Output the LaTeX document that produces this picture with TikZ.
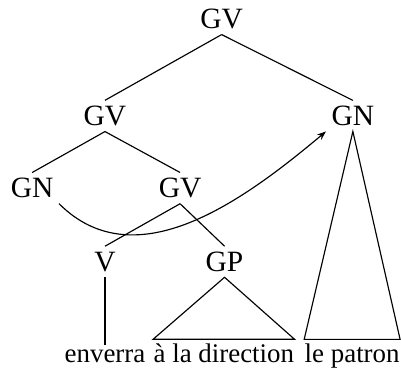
\documentclass[tikz,border=0pt]{standalone}
\usepackage{fontspec}
\setmainfont{Liberation Serif}
\usepackage{tikz}
\usetikzlibrary{arrows.meta, positioning}

\begin{document}
\begin{tikzpicture}[
    cat/.style={font=\fontsize{11.5}{13}\selectfont, inner sep=2pt},
    word/.style={font=\fontsize{10.5}{12}\selectfont, inner xsep=0pt, inner ysep=1.5pt, anchor=base},
    branch/.style={line width=0.45pt},
    arrow/.style={-{Stealth[length=3.5pt]}, line width=0.45pt}
]
    \useasboundingbox (0,0) rectangle (5.5,5.07);

    % Categories
    \node[cat] (gvtop) at (3.04,4.81) {GV};
    \node[cat] (gvleft) at (1.44,3.48) {GV};
    \node[cat] (gnright) at (4.84,3.48) {GN};
    \node[cat] (gnleft) at (0.44,2.49) {GN};
    \node[cat] (gvmid) at (2.47,2.49) {GV};
    \node[cat] (verb) at (1.44,1.48) {V};
    \node[cat] (gp) at (3.08,1.48) {GP};

    % Words
    \node[word] (enverra) at (1.44,0.1) {enverra};
    \node[word] (direction) at (3.07,0.1) {à la direction};
    \node[word] (patron) at (4.83,0.1) {le patron};

    % Branches
    \draw[branch] (gvtop.south) -- (gvleft.north);
    \draw[branch] (gvtop.south) -- (gnright.north);
    \draw[branch] (gvleft.south) -- (gnleft.north);
    \draw[branch] (gvleft.south) -- (gvmid.north);
    \draw[branch] (gvmid.south) -- (verb.north);
    \draw[branch] (gvmid.south) -- (gp.north);
    \draw[branch] (verb.south) -- (enverra.north);

    % Roofs
    \draw[branch] (direction.north west) -- (gp.south) -- (direction.north east) -- cycle;
    \draw[branch] (patron.north west) -- (gnright.south) -- (patron.north east) -- cycle;

    % Movement
    \draw[arrow] (gnleft.south east) to[out=-45, in=-140] (gnright.south west);
\end{tikzpicture}
\end{document}
